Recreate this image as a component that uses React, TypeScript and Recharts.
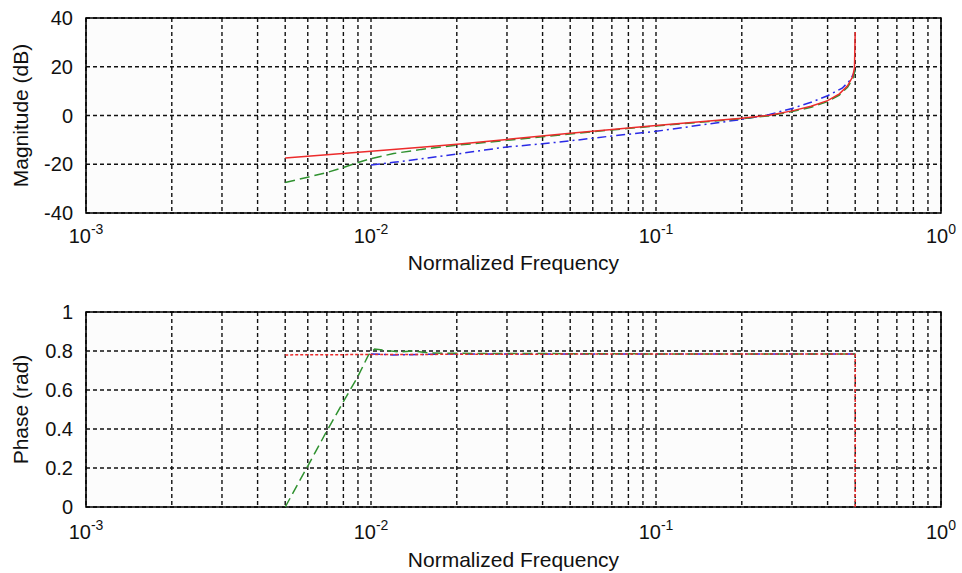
import { LineChart, Line, XAxis, YAxis, CartesianGrid, ReferenceArea } from "recharts";

// x axis: log frequency, grid at every 1..9 x 10^k
const xTicks = [
  0.001, 0.002, 0.003, 0.004, 0.005, 0.006, 0.007, 0.008, 0.009,
  0.01, 0.02, 0.03, 0.04, 0.05, 0.06, 0.07, 0.08, 0.09,
  0.1, 0.2, 0.3, 0.4, 0.5, 0.6, 0.7, 0.8, 0.9, 1,
];
const magTicks = [-40, -20, 0, 20, 40];
const phaseTicks = [0, 0.2, 0.4, 0.6, 0.8, 1];

// magnitude (dB)
const magRedF = [0.005, 0.007, 0.01, 0.015, 0.02, 0.03, 0.05, 0.07, 0.1, 0.15, 0.2, 0.25, 0.3, 0.35, 0.4, 0.44, 0.47, 0.49, 0.497, 0.5];
const magRed = [-17.4, -16.1, -14.7, -13.0, -11.8, -9.8, -7.3, -5.7, -4.1, -2.4, -1.1, 0.1, 1.9, 3.8, 6.1, 8.9, 12.2, 16.0, 19.5, 34.3];

const magGreenF = [0.005, 0.006, 0.007, 0.008, 0.009, 0.01, 0.012, 0.015, 0.02, 0.025, 0.03, 0.04, 0.05, 0.07, 0.1, 0.15, 0.2, 0.25, 0.3, 0.35, 0.4, 0.44, 0.47, 0.49, 0.5];
const magGreen = [-27.5, -25.3, -23.4, -21.3, -19.3, -17.7, -15.6, -13.9, -12.2, -11.1, -10.2, -8.7, -7.6, -5.9, -4.3, -2.6, -1.3, -0.1, 1.6, 3.4, 5.7, 8.4, 11.6, 15.0, 18.6];

const magBlueF = [0.01, 0.012, 0.015, 0.02, 0.025, 0.03, 0.04, 0.05, 0.07, 0.1, 0.15, 0.2, 0.25, 0.3, 0.35, 0.4, 0.45, 0.48, 0.5];
const magBlue = [-20.3, -19.2, -17.8, -15.8, -14.2, -12.9, -11.6, -10.4, -8.4, -6.5, -3.6, -1.6, 0.4, 2.9, 5.4, 8.1, 11.2, 14.5, 18.4];

// phase (rad)
const phRedF = [0.005, 0.01, 0.1, 0.5, 0.5];
const phRed = [0.78, 0.782, 0.785, 0.785, 0];

const phGreenF = [0.005, 0.006, 0.007, 0.008, 0.009, 0.0098, 0.0103, 0.011, 0.0125, 0.014, 0.016, 0.02, 0.1, 0.5];
const phGreen = [0, 0.21, 0.39, 0.54, 0.67, 0.78, 0.81, 0.805, 0.795, 0.8, 0.79, 0.788, 0.785, 0.785];

const phBlueF = [0.01, 0.012, 0.02, 0.1, 0.5];
const phBlue = [0.785, 0.78, 0.785, 0.785, 0.785];

const zip = (fs: number[], vs: number[]) => fs.map((f, i) => ({ f, v: vs[i] }));

const FONT = '"Liberation Sans", Arial, Helvetica, sans-serif';
const RED = "#ec2b2b";
const GREEN = "#2f912f";
const BLUE = "#2a2ae6";

function XTick({ x, y, payload, dy }: any) {
  const lg = Math.log10(payload.value);
  const e = Math.round(lg);
  if (Math.abs(lg - e) > 1e-6) return <g />;
  return (
    <text x={x} y={y + dy} textAnchor="middle" fontSize={20} fontFamily={FONT} fill="#111">
      10<tspan dy={-9} fontSize={14}>{e}</tspan>
    </text>
  );
}

type Series = { data: { f: number; v: number }[]; color: string; dash?: string };

function Panel(props: {
  top: number;
  height: number;
  margin: { top: number; right: number; bottom: number; left: number };
  yDomain: [number, number];
  yTicks: number[];
  yLabel: string;
  tickDy: number;
  titleDy: number;
  series: Series[];
}) {
  const { top, height, margin, yDomain, yTicks, yLabel, tickDy, titleDy, series } = props;
  return (
    <div style={{ position: "absolute", left: 0, top, width: 962, height }}>
      <LineChart width={962} height={height} margin={margin}>
        <CartesianGrid stroke="#111" strokeWidth={1.4} strokeDasharray="4 3" fill="#fcfcfc" />
        <XAxis
          type="number"
          dataKey="f"
          scale="log"
          domain={[0.001, 1]}
          allowDataOverflow
          ticks={xTicks}
          interval={0}
          height={40}
          tickLine={false}
          axisLine={false}
          tick={(p: any) => <XTick {...p} dy={tickDy} />}
          label={{
            content: ({ viewBox }: any) => (
              <text x={viewBox.x + viewBox.width / 2} y={viewBox.y + titleDy} textAnchor="middle"
                fontSize={21} fontFamily={FONT} fill="#111">
                Normalized Frequency
              </text>
            ),
          }}
        />
        <YAxis
          type="number"
          domain={yDomain}
          ticks={yTicks}
          interval={0}
          width={60}
          tickLine={false}
          axisLine={false}
          tickMargin={7}
          tick={{ fontSize: 20, fontFamily: FONT, fill: "#111" }}
          label={{
            content: ({ viewBox }: any) => {
              const cx = viewBox.x - 6;
              const cy = viewBox.y + viewBox.height / 2;
              return (
                <text x={cx} y={cy} transform={`rotate(-90 ${cx} ${cy})`} textAnchor="middle"
                  dominantBaseline="central" fontSize={21} fontFamily={FONT} fill="#111">
                  {yLabel}
                </text>
              );
            },
          }}
        />
        <ReferenceArea x1={0.001} x2={1} y1={yDomain[0]} y2={yDomain[1]} fill="none" fillOpacity={0}
          stroke="#000" strokeWidth={1.6} ifOverflow="visible" />
        {series.map((s, i) => (
          <Line key={i} data={s.data} dataKey="v" type="linear" stroke={s.color} strokeWidth={1.5}
            strokeDasharray={s.dash} dot={false} activeDot={false} isAnimationActive={false} />
        ))}
      </LineChart>
    </div>
  );
}

export default function App() {
  return (
    <div style={{ position: "absolute", left: 0, top: 0, width: 962, height: 573, background: "#fff" }}>
      <Panel
        top={0}
        height={290}
        margin={{ top: 18, right: 21, bottom: 37, left: 26 }}
        yDomain={[-40, 40]}
        yTicks={magTicks}
        yLabel="Magnitude (dB)"
        tickDy={22}
        titleDy={57}
        series={[
          { data: zip(magBlueF, magBlue), color: BLUE, dash: "9 4 2 4" },
          { data: zip(magGreenF, magGreen), color: GREEN, dash: "10 5" },
          { data: zip(magRedF, magRed), color: RED },
        ]}
      />
      <Panel
        top={290}
        height={283}
        margin={{ top: 22, right: 21, bottom: 26, left: 26 }}
        yDomain={[0, 1]}
        yTicks={phaseTicks}
        yLabel="Phase (rad)"
        tickDy={24}
        titleDy={60}
        series={[
          { data: zip(phBlueF, phBlue), color: BLUE, dash: "9 4 2 4" },
          { data: zip(phGreenF, phGreen), color: GREEN, dash: "10 5" },
          { data: zip(phRedF, phRed), color: RED, dash: "3 2" },
        ]}
      />
    </div>
  );
}
